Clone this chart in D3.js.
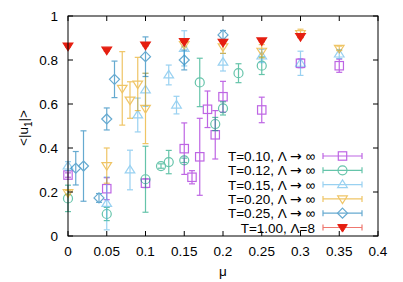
<!DOCTYPE html>
<html>
<head>
<meta charset="utf-8">
<script src="https://cdn.jsdelivr.net/npm/d3@7.8.5/dist/d3.min.js"></script>
<style>
  body { margin: 0; background: #fff; }
  svg { display: block; font-family: "Liberation Sans", Arial, sans-serif; }
  .tick-label { font-size: 13.5px; fill: #000; }
</style>
</head>
<body>
<svg id="chart" width="403" height="282"></svg>
<script>
// series: [mu, value, error]
const t010 = [[0, 0.277, 0.01], [0.05, 0.215, 0.05], [0.1, 0.24, 0.02], [0.15, 0.397, 0.117],
  [0.16, 0.267, 0.03], [0.17, 0.36, 0.175], [0.18, 0.576, 0.083], [0.19, 0.46, 0.11],
  [0.2, 0.633, 0.07], [0.25, 0.573, 0.058], [0.3, 0.785, 0.02], [0.35, 0.774, 0.03]];
const t012 = [[0, 0.171, 0.06], [0.05, 0.10, 0.03], [0.1, 0.258, 0.15], [0.12, 0.318, 0.01],
  [0.13, 0.336, 0.053], [0.15, 0.344, 0.01], [0.17, 0.698, 0.11], [0.19, 0.509, 0.03],
  [0.2, 0.58, 0.03], [0.22, 0.74, 0.043], [0.25, 0.774, 0.04]];
const t015 = [[0, 0.318, 0.02], [0.05, 0.148, 0.12], [0.08, 0.30, 0.09], [0.09, 0.55, 0.077],
  [0.1, 0.664, 0.075], [0.13, 0.732, 0.045], [0.14, 0.595, 0.04], [0.15, 0.853, 0.08],
  [0.2, 0.79, 0.04], [0.25, 0.818, 0.03], [0.3, 0.785, 0.055], [0.35, 0.827, 0.02]];
const t020 = [[0, 0.197, 0.01], [0.05, 0.32, 0.08], [0.07, 0.671, 0.167], [0.08, 0.618, 0.083],
  [0.09, 0.691, 0.121], [0.1, 0.58, 0.16], [0.15, 0.87, 0.01], [0.2, 0.86, 0.03],
  [0.25, 0.84, 0.03], [0.3, 0.92, 0.02], [0.35, 0.853, 0.01]];
const t025 = [[0.01, 0.308, 0.076], [0.02, 0.318, 0.16], [0.04, 0.173, 0.02], [0.05, 0.532, 0.05],
  [0.06, 0.712, 0.083], [0.1, 0.815, 0.09], [0.15, 0.80, 0.045], [0.2, 0.914, 0.02]];
const t100 = [[0, 0.864, 0.004], [0.05, 0.845, 0.004], [0.1, 0.868, 0.004], [0.15, 0.884, 0.004],
  [0.2, 0.881, 0.004], [0.25, 0.887, 0.004], [0.3, 0.907, 0.004]];

const seriesNames = ["T=0.10, Λ → ∞", "T=0.12, Λ → ∞", "T=0.15, Λ → ∞",
  "T=0.20, Λ → ∞", "T=0.25, Λ → ∞", "T=1.00, Λ=8"];
const seriesColors = ["#9400d3", "#009e73", "#56b4e9", "#e69f00", "#0072b2", "#e51e10"];
const seriesShapes = ["square", "circle", "up", "down", "diamond", "downFilled"];
const seriesData = [t010, t012, t015, t020, t025, t100];

const xTicks = [0, 0.05, 0.1, 0.15, 0.2, 0.25, 0.3, 0.35, 0.4];
const yTicks = [0, 0.2, 0.4, 0.6, 0.8, 1];

const svg = d3.select('#chart');
const pLeft = 68, pRight = 378, pTop = 16, pBottom = 236;
const x = d3.scaleLinear().domain([0, 0.4]).range([pLeft, pRight]);
const y = d3.scaleLinear().domain([0, 1]).range([pBottom, pTop]);

function marker(g, shape, color, cx, cy) {
  const s = 4.2;
  if (shape === 'square') {
    g.append('rect').attr('x', cx - s).attr('y', cy - s).attr('width', 2 * s).attr('height', 2 * s)
      .attr('fill', 'none').attr('stroke', color);
  } else if (shape === 'circle') {
    g.append('circle').attr('cx', cx).attr('cy', cy).attr('r', s + 0.3)
      .attr('fill', 'none').attr('stroke', color);
  } else if (shape === 'up') {
    g.append('path').attr('d', `M${cx - s - 0.6},${cy + s * 0.7}L${cx + s + 0.6},${cy + s * 0.7}L${cx},${cy - s * 1.1}Z`)
      .attr('fill', 'none').attr('stroke', color);
  } else if (shape === 'down' || shape === 'downFilled') {
    g.append('path').attr('d', `M${cx - s - 0.6},${cy - s * 0.7}L${cx + s + 0.6},${cy - s * 0.7}L${cx},${cy + s * 1.1}Z`)
      .attr('fill', shape === 'downFilled' ? color : 'none').attr('stroke', color);
  } else if (shape === 'diamond') {
    g.append('path').attr('d', `M${cx},${cy - s - 0.8}L${cx + s + 0.8},${cy}L${cx},${cy + s + 0.8}L${cx - s - 0.8},${cy}Z`)
      .attr('fill', 'none').attr('stroke', color);
  }
}

const plot = svg.append('g');
seriesData.forEach((data, i) => {
  const color = seriesColors[i];
  const g = plot.append('g').attr('opacity', i === 5 ? 1 : 0.6).attr('stroke-width', 1.2);
  data.forEach(d => {
    const cx = x(d[0]), cy = y(d[1]);
    const y0 = y(d[1] - d[2]), y1 = y(d[1] + d[2]);
    g.append('line').attr('x1', cx).attr('x2', cx).attr('y1', y0).attr('y2', y1).attr('stroke', color);
    g.append('line').attr('x1', cx - 3).attr('x2', cx + 3).attr('y1', y0).attr('y2', y0).attr('stroke', color);
    g.append('line').attr('x1', cx - 3).attr('x2', cx + 3).attr('y1', y1).attr('y2', y1).attr('stroke', color);
    marker(g, seriesShapes[i], color, cx, cy);
  });
});

// axes (ticks inward, mirrored)
const axisG = svg.append('g');
xTicks.forEach(t => {
  axisG.append('line').attr('x1', x(t)).attr('x2', x(t)).attr('y1', pBottom).attr('y2', pBottom - 5).attr('stroke', '#000');
  axisG.append('line').attr('x1', x(t)).attr('x2', x(t)).attr('y1', pTop).attr('y2', pTop + 5).attr('stroke', '#000');
  axisG.append('text').attr('class', 'tick-label').attr('x', x(t)).attr('y', 256)
    .attr('text-anchor', 'middle').text(d3.format('~g')(t));
});
yTicks.forEach(t => {
  axisG.append('line').attr('x1', pLeft).attr('x2', pLeft + 5).attr('y1', y(t)).attr('y2', y(t)).attr('stroke', '#000');
  axisG.append('line').attr('x1', pRight).attr('x2', pRight - 5).attr('y1', y(t)).attr('y2', y(t)).attr('stroke', '#000');
  axisG.append('text').attr('class', 'tick-label').attr('x', 58).attr('y', y(t) + 5)
    .attr('text-anchor', 'end').text(d3.format('~g')(t));
});
axisG.append('rect').attr('x', pLeft).attr('y', pTop).attr('width', pRight - pLeft).attr('height', pBottom - pTop)
  .attr('fill', 'none').attr('stroke', '#000').attr('stroke-width', 1);

// axis titles
svg.append('text').attr('class', 'tick-label').attr('x', 223).attr('y', 276)
  .attr('text-anchor', 'middle').text('μ');
const yl = svg.append('text').attr('class', 'tick-label')
  .attr('transform', 'translate(28,128) rotate(-90)').attr('text-anchor', 'middle');
yl.append('tspan').text('<|u');
yl.append('tspan').attr('dy', 4).attr('font-size', '10px').text('1');
yl.append('tspan').attr('dy', -4).text('|>');

// legend
const legend = svg.append('g');
seriesNames.forEach((name, i) => {
  const ly = 156 + i * 14.3;
  const txt = legend.append('text').attr('class', 'tick-label').attr('x', 315).attr('y', ly + 5)
    .attr('text-anchor', 'end');
  const parts = name.split('→');
  txt.append('tspan').text(parts[0]);
  if (parts.length > 1) {
    txt.append('tspan').attr('font-family', 'DejaVu Sans').attr('font-size', '14px').text('→');
    txt.append('tspan').text(parts[1]);
  }
  const g = legend.append('g').attr('opacity', 0.6).attr('stroke-width', 1.2);
  const c = seriesColors[i];
  g.append('line').attr('x1', 323).attr('x2', 362).attr('y1', ly).attr('y2', ly).attr('stroke', c);
  g.append('line').attr('x1', 323).attr('x2', 323).attr('y1', ly - 3).attr('y2', ly + 3).attr('stroke', c);
  g.append('line').attr('x1', 362).attr('x2', 362).attr('y1', ly - 3).attr('y2', ly + 3).attr('stroke', c);
  marker(i === 5 ? legend : g, seriesShapes[i], c, 342.5, ly);
});
</script>
</body>
</html>
